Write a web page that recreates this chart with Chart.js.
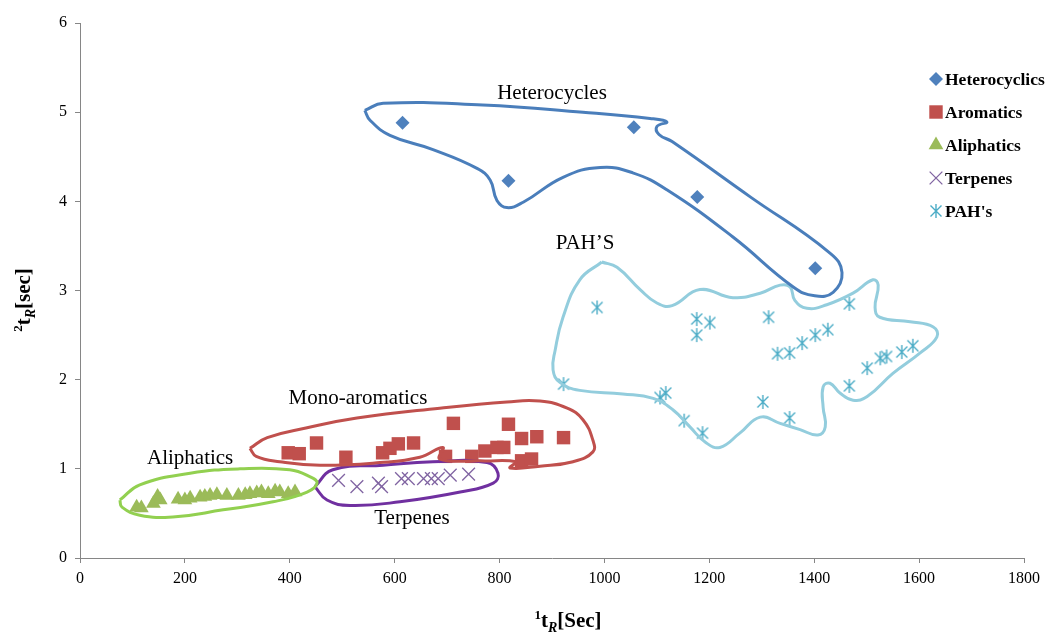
<!DOCTYPE html>
<html lang="en">
  <head>
    <meta charset="UTF-8" />
    <title>GCxGC retention times</title>
    <script src="https://cdn.jsdelivr.net/npm/chart.js"></script>
    <style>
      body {
        margin: 0;
        background: #fff;
      }
    </style>
  </head>
  <body>
    <canvas id="scatterChart" width="1048" height="634"></canvas>

    <script>
      // measured points (1tR in s, 2tR in s)
      const hetX = [615, 817, 1056, 1177, 1402];
      const hetY = [4.88, 4.23, 4.83, 4.05, 3.25];

      const aroX = [397, 418, 451, 507, 577, 591, 607, 636, 712, 697, 747, 772, 795, 808, 817, 842, 871, 922, 842, 861];
      const aroY = [1.18, 1.17, 1.29, 1.13, 1.18, 1.23, 1.28, 1.29, 1.51, 1.14, 1.14, 1.2, 1.24, 1.24, 1.5, 1.34, 1.36, 1.35, 1.09, 1.11];

      const aliX = [108, 117, 140, 148, 153, 187, 200, 210, 229, 238, 248, 261, 280, 302, 315, 324, 337, 346, 359, 372, 381, 397, 410];
      const aliY = [0.57, 0.56, 0.61, 0.69, 0.65, 0.66, 0.65, 0.67, 0.68, 0.69, 0.7, 0.71, 0.7, 0.7, 0.71, 0.72, 0.73, 0.74, 0.72, 0.75, 0.74, 0.72, 0.74];

      const terX = [493, 528, 569, 575, 613, 626, 655, 670, 683, 706, 741];
      const terY = [0.87, 0.8, 0.84, 0.8, 0.89, 0.89, 0.89, 0.89, 0.89, 0.93, 0.94];

      const pahX = [986, 1176, 1201, 1176, 1313, 1467, 1426, 1402, 1377, 1353, 1330, 1588, 1567, 1538, 1526, 1501, 1467, 922, 1117, 1106, 1152, 1187, 1302, 1353];
      const pahY = [2.81, 2.68, 2.64, 2.5, 2.7, 2.85, 2.56, 2.5, 2.41, 2.3, 2.29, 2.38, 2.31, 2.26, 2.24, 2.13, 1.93, 1.95, 1.85, 1.8, 1.54, 1.4, 1.75, 1.57];

      // hand-drawn group outlines, in axis units
      const hetLoopX = [543, 578, 768, 959, 1087, 1119, 1100, 1104, 1129, 1278, 1430, 1453, 1436, 1401, 1360, 1245, 1119, 1054, 992, 921, 845, 814, 795, 782, 757, 673, 591, 553];
      const hetLoopY = [5.02, 5.1, 5.08, 5.0, 4.93, 4.89, 4.84, 4.75, 4.67, 4.05, 3.42, 3.2, 2.98, 2.94, 3.04, 3.6, 4.13, 4.32, 4.38, 4.27, 3.99, 3.93, 4.01, 4.24, 4.37, 4.58, 4.74, 4.91];

      const aroLoopX = [324, 357, 433, 528, 686, 814, 877, 929, 959, 978, 978, 940, 877, 820, 831, 763, 686, 692, 648, 572, 458, 381, 336];
      const aroLoopY = [1.23, 1.35, 1.46, 1.57, 1.68, 1.75, 1.76, 1.68, 1.55, 1.32, 1.19, 1.08, 1.03, 1.01, 1.08, 1.09, 1.11, 1.24, 1.13, 1.07, 1.04, 1.08, 1.14];

      const aliLoopX = [76, 114, 210, 305, 400, 439, 452, 433, 368, 273, 177, 114, 80];
      const aliLoopY = [0.65, 0.82, 0.95, 1.0, 0.99, 0.91, 0.84, 0.74, 0.63, 0.54, 0.46, 0.48, 0.57];

      const terLoopX = [448, 482, 578, 673, 776, 797, 788, 725, 610, 515, 471];
      const terLoopY = [0.8, 0.99, 1.04, 1.08, 1.07, 0.95, 0.84, 0.74, 0.63, 0.59, 0.65];

      const pahLoopX = [995, 1024, 1068, 1100, 1129, 1182, 1245, 1297, 1335, 1354, 1363, 1386, 1424, 1474, 1512, 1522, 1516, 1525, 1583, 1627, 1634, 1602, 1550, 1501, 1474, 1449, 1430, 1417, 1417, 1421, 1407, 1373, 1335, 1297, 1258, 1220, 1192, 1163, 1131, 1093, 1035, 953, 915, 902, 906, 921, 953];
      const pahLoopY = [3.32, 3.26, 3.01, 2.86, 2.83, 3.01, 2.92, 2.97, 3.06, 3.04, 2.89, 2.8, 2.84, 2.97, 3.12, 3.06, 2.81, 2.7, 2.65, 2.59, 2.48, 2.3, 2.07, 1.81, 1.77, 1.85, 1.96, 1.92, 1.69, 1.47, 1.38, 1.44, 1.51, 1.58, 1.4, 1.24, 1.3, 1.47, 1.66, 1.79, 1.84, 1.88, 1.97, 2.11, 2.33, 2.7, 3.12];

      // group labels written on the plot
      const groupNames = ["Heterocycles", "PAH\u2019S", "Mono-aromatics", "Aliphatics", "Terpenes"];
      const groupNameX = [900, 963, 530, 210, 633];
      const groupNameY = [5.21, 3.53, 1.79, 1.12, 0.44];

      const xTicks = [0, 200, 400, 600, 800, 1000, 1200, 1400, 1600, 1800];
      const yTicks = [0, 1, 2, 3, 4, 5, 6];

      const pts = (xs, ys) => xs.map((x, i) => ({ x: x, y: ys[i] }));
      const loop = (xs, ys) => {
        const p = pts(xs, ys);
        p.push(p[0]);
        return p;
      };

      function asterisk(color) {
        const c = document.createElement("canvas");
        c.width = 16;
        c.height = 16;
        const g = c.getContext("2d");
        g.strokeStyle = color;
        g.lineWidth = 1.4;
        g.beginPath();
        g.moveTo(2.5, 2.5);
        g.lineTo(13.5, 13.5);
        g.moveTo(13.5, 2.5);
        g.lineTo(2.5, 13.5);
        g.moveTo(8, 1);
        g.lineTo(8, 15);
        g.stroke();
        return c;
      }

      const pahStar = asterisk("#4bacc6");

      const outline = (label, data, color) => ({
        label: label,
        data: data,
        showLine: true,
        fill: false,
        borderColor: color,
        borderWidth: 3,
        tension: 0.45,
        pointRadius: 0,
        order: 0,
      });

      const series = [
        { label: "Heterocyclics", data: pts(hetX, hetY), pointStyle: "rectRot", pointRadius: 7, backgroundColor: "#4f81bd", borderColor: "#4f81bd", borderWidth: 0, order: 1 },
        { label: "Aromatics", data: pts(aroX, aroY), pointStyle: "rect", pointRadius: 9.5, backgroundColor: "#c0504d", borderColor: "#c0504d", borderWidth: 0, order: 1 },
        { label: "Aliphatics", data: pts(aliX, aliY), pointStyle: "triangle", pointRadius: 8.5, backgroundColor: "#9bbb59", borderColor: "#9bbb59", borderWidth: 0, order: 1 },
        { label: "Terpenes", data: pts(terX, terY), pointStyle: "crossRot", pointRadius: 9, backgroundColor: "#8064a2", borderColor: "#8064a2", borderWidth: 1.3, order: 1 },
        { label: "PAH's", data: pts(pahX, pahY), pointStyle: pahStar, pointRadius: 8, backgroundColor: "#4bacc6", borderColor: "#4bacc6", borderWidth: 1.3, order: 1 },
      ];

      const outlines = [
        outline("hetLoop", loop(hetLoopX, hetLoopY), "#4a7ebb"),
        outline("aroLoop", loop(aroLoopX, aroLoopY), "#c0504d"),
        outline("aliLoop", loop(aliLoopX, aliLoopY), "#92d050"),
        outline("terLoop", loop(terLoopX, terLoopY), "#7030a0"),
        outline("pahLoop", loop(pahLoopX, pahLoopY), "#93cddd"),
      ];

      function drawMarker(g, ds, x, y) {
        const r = ds.pointRadius;
        g.save();
        g.fillStyle = ds.backgroundColor;
        g.strokeStyle = ds.borderColor;
        g.lineWidth = ds.borderWidth || 1.2;
        g.beginPath();
        if (ds.pointStyle === "rectRot") {
          g.moveTo(x, y - r);
          g.lineTo(x + r, y);
          g.lineTo(x, y + r);
          g.lineTo(x - r, y);
          g.closePath();
          g.fill();
        } else if (ds.pointStyle === "rect") {
          const s = r * Math.SQRT1_2;
          g.rect(x - s, y - s, 2 * s, 2 * s);
          g.fill();
        } else if (ds.pointStyle === "triangle") {
          g.moveTo(x, y - r);
          g.lineTo(x + r * 0.866, y + r * 0.5);
          g.lineTo(x - r * 0.866, y + r * 0.5);
          g.closePath();
          g.fill();
        } else if (ds.pointStyle === "crossRot") {
          const s = r * Math.SQRT1_2;
          g.moveTo(x - s, y - s);
          g.lineTo(x + s, y + s);
          g.moveTo(x + s, y - s);
          g.lineTo(x - s, y + s);
          g.stroke();
        } else {
          g.drawImage(ds.pointStyle, x - 8, y - 8);
        }
        g.restore();
      }

      // draws run text pieces: [text, font, dy]
      function runs(g, parts, x, y) {
        let w = 0;
        parts.forEach((p) => {
          g.font = p[1];
          w += g.measureText(p[0]).width;
        });
        let cx = x - w / 2;
        parts.forEach((p) => {
          g.font = p[1];
          g.fillText(p[0], cx, y + p[2]);
          cx += g.measureText(p[0]).width;
        });
      }

      const overlay = {
        id: "overlay",
        afterDatasetsDraw(chart) {
          const g = chart.ctx;
          const xs = chart.scales.x;
          const ys = chart.scales.y;
          const area = chart.chartArea;

          g.save();
          g.fillStyle = "#000";
          g.textAlign = "center";
          g.textBaseline = "middle";
          g.font = '21px "Liberation Serif"';
          groupNames.forEach((name, i) => {
            g.fillText(name, xs.getPixelForValue(groupNameX[i]), ys.getPixelForValue(groupNameY[i]));
          });

          // legend
          g.textAlign = "left";
          g.font = 'bold 17.5px "Liberation Serif"';
          const lx = area.right - 88;
          series.forEach((ds, i) => {
            const y = 79 + i * 33;
            drawMarker(g, ds, lx, y);
            g.fillStyle = "#000";
            g.fillText(ds.label, lx + 9, y + 1);
          });

          // axis titles
          g.textBaseline = "alphabetic";
          const b = 'bold 21px "Liberation Serif"';
          const small = 'bold 13px "Liberation Serif"';
          const smallIt = 'italic bold 14px "Liberation Serif"';
          runs(g, [["1", small, -8], ["t", b, 0], ["R", smallIt, 5], ["[Sec]", b, 0]], (area.left + area.right) / 2 + 16, 627);

          g.translate(30, 300);
          g.rotate(-Math.PI / 2);
          runs(g, [["2", small, -8], ["t", b, 0], ["R", smallIt, 5], ["[sec]", b, 0]], 0, 0);
          g.restore();
        },
      };

      const ctx = document.getElementById("scatterChart").getContext("2d");

      const chart = new Chart(ctx, {
        type: "scatter",
        data: { datasets: outlines.concat(series) },
        options: {
          responsive: false,
          animation: false,
          devicePixelRatio: 1,
          layout: { padding: { left: 0, top: 23, right: 24, bottom: 0 } },
          plugins: {
            legend: { display: false },
            tooltip: { enabled: false },
          },
          scales: {
            x: {
              type: "linear",
              min: 0,
              max: 1800,
              afterBuildTicks: (s) => {
                s.ticks = xTicks.map((v) => ({ value: v }));
              },
              afterFit: (s) => {
                s.height = 76;
              },
              grid: { drawOnChartArea: false, drawTicks: true, tickLength: 5, color: "#868686" },
              border: { color: "#868686" },
              ticks: {
                color: "#000",
                padding: 6,
                maxRotation: 0,
                font: { family: "Liberation Serif", size: 16 },
                callback: (v) => String(v),
              },
            },
            y: {
              type: "linear",
              min: 0,
              max: 6,
              afterBuildTicks: (s) => {
                s.ticks = yTicks.map((v) => ({ value: v }));
              },
              afterFit: (s) => {
                s.width = 80;
              },
              grid: { drawOnChartArea: false, drawTicks: true, tickLength: 5, color: "#868686" },
              border: { color: "#868686" },
              ticks: {
                color: "#000",
                padding: 8,
                font: { family: "Liberation Serif", size: 16 },
                callback: (v) => String(v),
              },
            },
          },
        },
        plugins: [overlay],
      });
    </script>
  </body>
</html>
